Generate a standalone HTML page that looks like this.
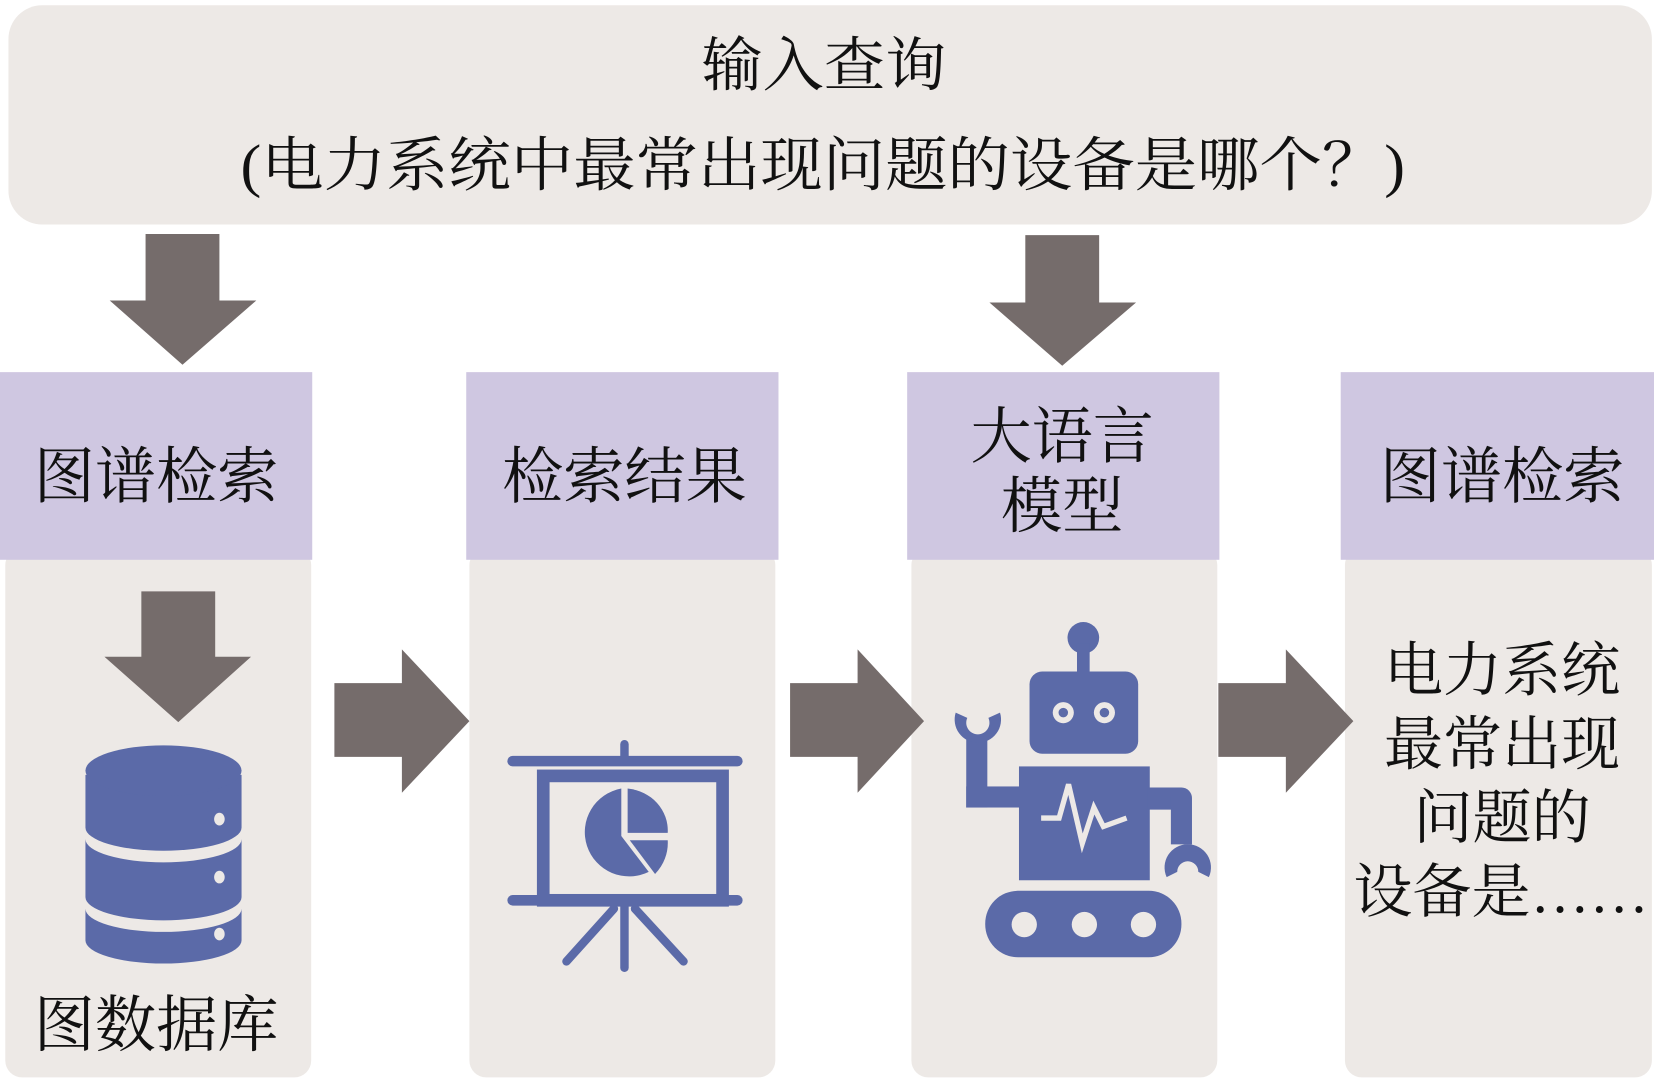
<!DOCTYPE html>
<html><head><meta charset="utf-8"><style>
html,body{margin:0;padding:0;background:#fff;}
svg{display:block;}
text{font-family:"Liberation Serif","Noto Serif CJK SC",serif;fill:#111;}
</style></head><body>
<svg width="1654" height="1089" viewBox="0 0 1568 1033" preserveAspectRatio="none" xmlns="http://www.w3.org/2000/svg">
<rect x="0" y="0" width="1568" height="1033" fill="#fff"/>
<rect x="8" y="5" width="1558" height="208" rx="32" fill="#ede9e6"/>
<text x="665" y="81" font-size="56" textLength="232" lengthAdjust="spacingAndGlyphs">输入查询</text>
<text x="228" y="176" font-size="56" textLength="1104" lengthAdjust="spacingAndGlyphs">(电力系统中最常出现问题的设备是哪个？)</text>
<polygon points="138,222 208,222 208,285 243,285 173,346 104,285 138,285" fill="#756c6b"/>
<polygon points="972,223 1042,223 1042,287 1077,287 1007,347 938,287 972,287" fill="#756c6b"/>
<rect x="5" y="520" width="290" height="502" rx="16" fill="#ede9e6"/>
<rect x="445" y="520" width="290" height="502" rx="16" fill="#ede9e6"/>
<rect x="864" y="520" width="290" height="502" rx="16" fill="#ede9e6"/>
<rect x="1275" y="520" width="291" height="502" rx="16" fill="#ede9e6"/>
<rect x="0" y="353" width="296" height="178" fill="#cfc7e1"/>
<rect x="442" y="353" width="296" height="178" fill="#cfc7e1"/>
<rect x="860" y="353" width="296" height="178" fill="#cfc7e1"/>
<rect x="1271" y="353" width="297" height="178" fill="#cfc7e1"/>
<text x="148" y="472" font-size="58" text-anchor="middle">图谱检索</text>
<text x="592" y="472" font-size="58" text-anchor="middle">检索结果</text>
<text x="1007" y="434" font-size="58" text-anchor="middle">大语言</text>
<text x="1007" y="500" font-size="58" text-anchor="middle">模型</text>
<text x="1424" y="472" font-size="58" text-anchor="middle">图谱检索</text>
<polygon points="134,561 204,561 204,623 238,623 169,685 99,623 134,623" fill="#756c6b"/>
<polygon points="317,648 381,648 381,616 445,684 381,752 381,718 317,718" fill="#756c6b"/>
<polygon points="749,648 813,648 813,616 876,684 813,752 813,718 749,718" fill="#756c6b"/>
<polygon points="1155,648 1219,648 1219,616 1283,684 1219,752 1219,718 1155,718" fill="#756c6b"/>
<g fill="#5b6aa8">
<path d="M81,735 v50 a74,22 0 0 0 148,0 v-50 z"/>
<ellipse cx="155" cy="731" rx="74" ry="24"/>
<path d="M81,796 a74,22 0 0 0 148,0 v55 a74,22 0 0 1 -148,0 z"/>
<path d="M81,862 a74,22 0 0 0 148,0 v30 a74,22 0 0 1 -148,0 z"/>
</g>
<g fill="#ede9e6">
<ellipse cx="208" cy="777" rx="5" ry="6"/>
<ellipse cx="208" cy="832" rx="5" ry="6"/>
<ellipse cx="208" cy="886" rx="5" ry="6"/>
</g>
<text x="148" y="992" font-size="58" text-anchor="middle">图数据库</text>
<g stroke="#5b6aa8" stroke-linecap="round" fill="none">
<rect x="515" y="736" width="170" height="118" stroke-width="12"/>
<line x1="486" y1="722" x2="699" y2="722" stroke-width="10"/>
<line x1="486" y1="854" x2="699" y2="854" stroke-width="10"/>
<line x1="592" y1="706" x2="592" y2="720" stroke-width="8"/>
<line x1="592" y1="858" x2="592" y2="918" stroke-width="8"/>
<line x1="582" y1="862" x2="537" y2="912" stroke-width="8"/>
<line x1="602" y1="862" x2="648" y2="912" stroke-width="8"/>
</g>
<g fill="#5b6aa8">
<path d="M589,748 v45 l26,34 a42,42 0 1 1 -26,-79 z"/>
<path d="M595,748 a42,40 0 0 1 38,42 h-38 z"/>
<path d="M597,797 h36 a42,42 0 0 1 -12,32 z"/>
</g>
<g fill="#5b6aa8">
<circle cx="1027" cy="605" r="15"/>
<rect x="1021" y="610" width="12" height="30"/>
<rect x="976" y="637" width="103" height="78" rx="12"/>
<rect x="966" y="727" width="124" height="108"/>
<rect x="916" y="700" width="20" height="66"/>
<rect x="916" y="746" width="52" height="20"/>
<path d="M906,676 a22,22 0 1 0 42,0 l-11,5 a11,11 0 1 1 -20,0 z"/>
<rect x="1088" y="747" width="32" height="21"/>
<path d="M1110,757 a10,10 0 0 1 20,0 v44 h-20 z"/>
<path d="M1106,832 a22,22 0 1 1 40,0 l-10,-5 a10,10 0 1 0 -20,0 z"/>
<rect x="934" y="845" width="186" height="63" rx="31"/>
</g>
<g fill="#ede9e6">
<circle cx="1008" cy="676" r="10"/><circle cx="1047" cy="676" r="10"/>
<circle cx="971" cy="877" r="12"/><circle cx="1028" cy="877" r="12"/><circle cx="1084" cy="877" r="12"/>
</g>
<g fill="#5b6aa8"><circle cx="1008" cy="676" r="4.5"/><circle cx="1047" cy="676" r="4.5"/></g>
<polyline points="987,776 1004,776 1013,744 1026,800 1037,766 1046,784 1068,776" fill="none" stroke="#ede9e6" stroke-width="5"/>
<text x="1424" y="655" font-size="56" text-anchor="middle">电力系统</text>
<text x="1424" y="725" font-size="56" text-anchor="middle">最常出现</text>
<text x="1424" y="795" font-size="56" text-anchor="middle">问题的</text>
<text x="1283" y="865" font-size="56">设备是……</text>
</svg>
</body></html>
